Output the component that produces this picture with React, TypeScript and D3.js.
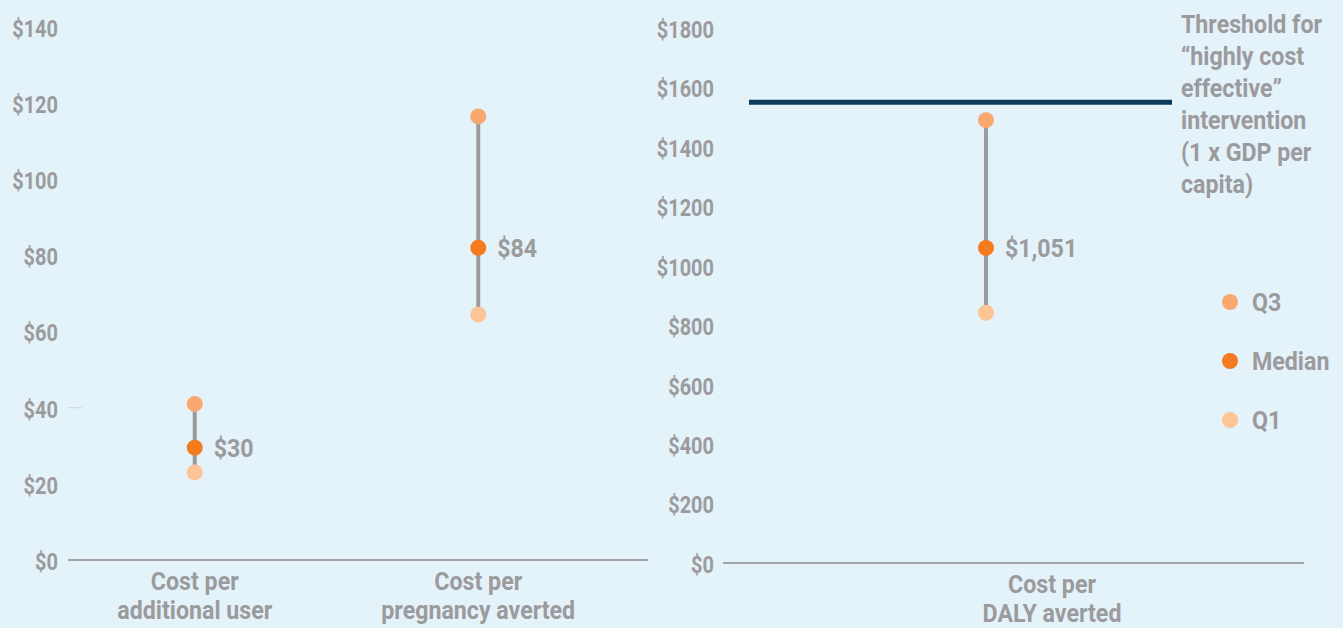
import * as d3 from 'd3';
import {useEffect, useRef} from 'react';

// left panel
const leftCategories = ['Cost per|additional user', 'Cost per|pregnancy averted'];
const leftQ3 = [41, 116.5];
const leftMedian = [29.5, 82];
const leftQ1 = [23, 64.5];
const leftMedianLabels = ['$30', '$84'];
const leftTicks = [0, 20, 40, 60, 80, 100, 120, 140];

// right panel
const rightCategories = ['Cost per|DALY averted'];
const rightQ3 = [1490];
const rightMedian = [1060];
const rightQ1 = [842];
const rightMedianLabels = ['$1,051'];
const rightTicks = [0, 200, 400, 600, 800, 1000, 1200, 1400, 1600, 1800];
const threshold = 1550;
const thresholdText = ['Threshold for', '\u201Chighly cost', 'effective\u201D', 'intervention', '(1 x GDP per', 'capita)'];

const legendItems = ['Q3', 'Median', 'Q1'];

const width = 1343;
const height = 628;
const bg = '#e4f2fa';
const grey = '#9b9b9d';
const colQ3 = '#f9a870';
const colMed = '#f47b20';
const colQ1 = '#fdc496';
const navy = '#0e3a5c';
const font = 'Roboto, sans-serif';

// the original uses a condensed face; squeeze Roboto horizontally instead
const SX = 0.91;
const TICK_SX = 0.85;
const FS = 25.5;
const TICK_FS = 23.5;

export default function App() {
    const ref = useRef(null);

    useEffect(() => {
        const svg = d3.select(ref.current);
        svg.selectAll('*').remove();
        svg.append('rect').attr('width', width).attr('height', height).attr('fill', bg);

        const txt = (sel) =>
            sel.attr('font-family', font).attr('font-weight', 700).attr('fill', grey);

        // text placed at (x, y), squeezed in x around its anchor
        const label = (parent, x, y, lines, anchor = 'start', lineH = 32, dy = '0') => {
            const t = parent
                .append('text')
                .call(txt)
                .attr('font-size', FS)
                .attr('text-anchor', anchor)
                .attr('transform', `translate(${x},${y}) scale(${SX},1)`);
            lines.forEach((line, j) => {
                t.append('tspan')
                    .attr('x', 0)
                    .attr('dy', j === 0 ? dy : lineH)
                    .text(line);
            });
            return t;
        };

        const panel = (opts) => {
            const {cats, q3, med, q1, labels, ticks, y, x, axisX, x0, x1, lblDx} = opts;
            const g = svg.append('g');

            const yAxis = d3
                .axisLeft(y)
                .tickValues(ticks)
                .tickSize(0)
                .tickPadding(0)
                .tickFormat((d) => `$${d}`);
            const ga = g.append('g').attr('transform', `translate(${axisX},0)`).call(yAxis);
            ga.select('.domain').remove();
            ga.selectAll('text')
                .call(txt)
                .attr('font-size', TICK_FS)
                .attr('x', 0)
                .attr('dy', '0.4em')
                .attr('transform', `scale(${TICK_SX},1)`);

            g.append('line')
                .attr('x1', x0)
                .attr('x2', x1)
                .attr('y1', y(0))
                .attr('y2', y(0))
                .attr('stroke', '#a3a3a5')
                .attr('stroke-width', 2);

            cats.forEach((c, i) => {
                const cx = x(c) + x.bandwidth() / 2;
                g.append('line')
                    .attr('x1', cx)
                    .attr('x2', cx)
                    .attr('y1', y(q3[i]))
                    .attr('y2', y(q1[i]))
                    .attr('stroke', grey)
                    .attr('stroke-width', 4);
                [
                    [q3[i], colQ3],
                    [q1[i], colQ1],
                    [med[i], colMed],
                ].forEach(([v, col]) => {
                    g.append('circle').attr('cx', cx).attr('cy', y(v)).attr('r', 8).attr('fill', col);
                });
                label(g, cx + 19, y(med[i]), [labels[i]], 'start', 0, '0.35em');
                label(g, cx + lblDx, y(0) + 29.5, c.split('|'), 'middle', 30);
            });
            return g;
        };

        const yL = d3.scaleLinear().domain([0, 140]).range([560, 27]);
        const xL = d3.scaleBand().domain(leftCategories).range([53, 620]);
        panel({
            cats: leftCategories,
            q3: leftQ3,
            med: leftMedian,
            q1: leftQ1,
            labels: leftMedianLabels,
            ticks: leftTicks,
            y: yL,
            x: xL,
            axisX: 58,
            x0: 68,
            x1: 648,
            lblDx: 0,
        });
        // faint stray tick beside $40
        svg.append('line')
            .attr('x1', 68)
            .attr('x2', 82)
            .attr('y1', yL(40))
            .attr('y2', yL(40))
            .attr('stroke', '#cfd9df')
            .attr('stroke-width', 1);

        const yR = d3.scaleLinear().domain([0, 1800]).range([563, 28]);
        const xR = d3.scaleBand().domain(rightCategories).range([723, 1249]);
        panel({
            cats: rightCategories,
            q3: rightQ3,
            med: rightMedian,
            q1: rightQ1,
            labels: rightMedianLabels,
            ticks: rightTicks,
            y: yR,
            x: xR,
            axisX: 714,
            x0: 723,
            x1: 1304,
            lblDx: 66,
        });

        svg.append('line')
            .attr('x1', 749)
            .attr('x2', 1172)
            .attr('y1', yR(threshold))
            .attr('y2', yR(threshold))
            .attr('stroke', navy)
            .attr('stroke-width', 5);

        label(svg, 1181, 33, thresholdText, 'start', 32.1);

        const ly = d3.scalePoint().domain(legendItems).range([302, 420]);
        const lcol = [colQ3, colMed, colQ1];
        legendItems.forEach((k, i) => {
            svg.append('circle').attr('cx', 1230).attr('cy', ly(k)).attr('r', 8).attr('fill', lcol[i]);
            label(svg, 1252, ly(k), [k], 'start', 0, '0.35em');
        });
    }, []);

    return (
        <div style={{position: 'fixed', left: 0, top: 0, width, height, background: bg}}>
            <svg ref={ref} width={width} height={height} style={{display: 'block'}}></svg>
        </div>
    );
}
